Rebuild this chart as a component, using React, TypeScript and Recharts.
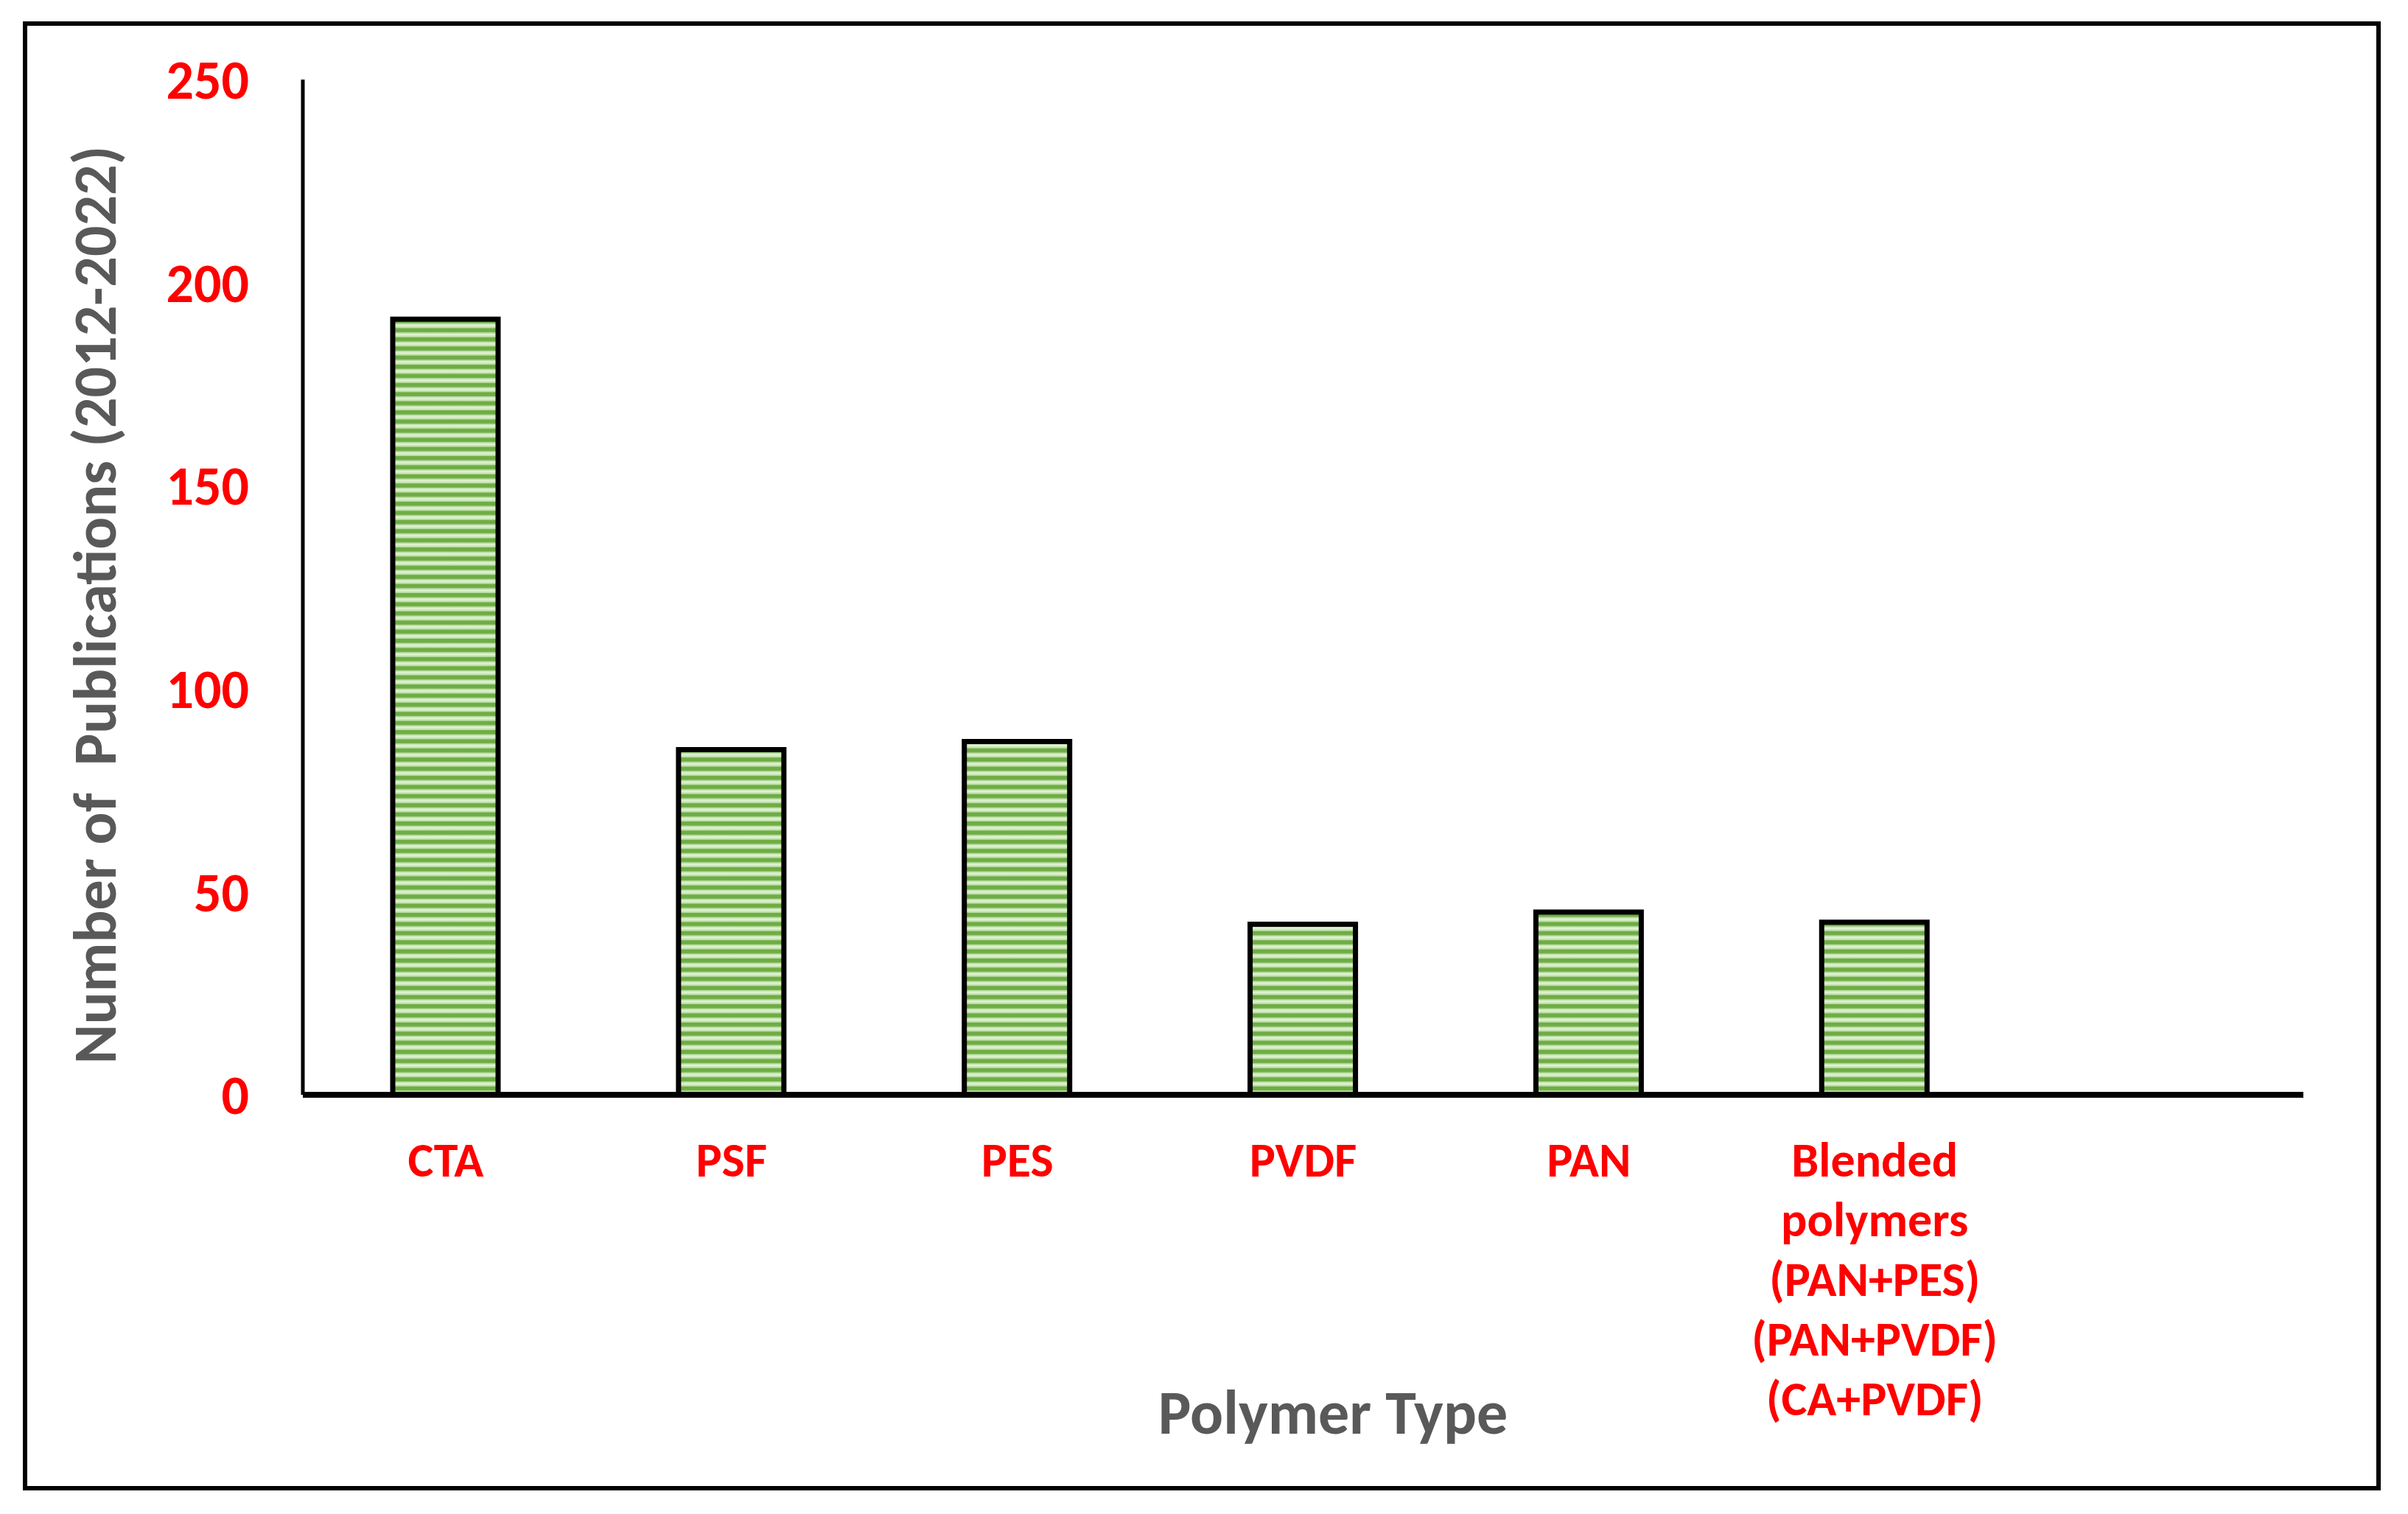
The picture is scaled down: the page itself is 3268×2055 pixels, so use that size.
import React from 'react';
import { BarChart, Bar, XAxis, YAxis } from 'recharts';

// polymer categories (last slot is an empty band on the axis)
const categories = ['CTA', 'PSF', 'PES', 'PVDF', 'PAN', 'Blended polymers', ''];
const tickLines = [
  ['CTA'],
  ['PSF'],
  ['PES'],
  ['PVDF'],
  ['PAN'],
  ['Blended', 'polymers', '(PAN+PES)', '(PAN+PVDF)', '(CA+PVDF)'],
  [],
];
const publications = [191, 85, 87, 42, 45, 42.5, null];
const yTicks = [0, 50, 100, 150, 200, 250];

const data = categories.map((name, i) => ({ name, value: publications[i] }));

const FONT = "Carlito, Lato, 'Noto Sans', sans-serif";
const RED = '#FF0000';
const GRAY = '#595959';

const XTick = (props: any) => {
  const { x, y, payload } = props;
  const lines = tickLines[categories.indexOf(payload.value)] || [];
  return (
    <text x={x} y={y} textAnchor="middle" fill={RED} fontSize={66} fontWeight="bold" fontFamily={FONT}>
      {lines.map((l, i) => (
        <tspan key={i} x={x} dy={i === 0 ? 111 : 81}>
          {l}
        </tspan>
      ))}
    </text>
  );
};

const App: React.FC = () => {
  return (
    <div style={{ position: 'absolute', left: 0, top: 0, width: 3268, height: 2055, background: '#fff' }}>
      {/* outer frame */}
      <div
        style={{
          position: 'absolute',
          left: 31,
          top: 29,
          width: 3188,
          height: 1982,
          border: '6px solid #000',
        }}
      />
      <div style={{ position: 'absolute', left: 0, top: 0 }}>
        <BarChart
          width={3268}
          height={2055}
          data={data}
          margin={{ top: 108, right: 142, bottom: 0, left: 0 }}
          barCategoryGap="31%"
        >
          <defs>
            <pattern id="stripes" patternUnits="userSpaceOnUse" width="20" height="12.4">
              <rect x="0" y="0" width="20" height="12.4" fill="#6fac45" />
              <rect x="0" y="4.5" width="20" height="7" fill="url(#stripeGrad)" />
            </pattern>
            <linearGradient id="stripeGrad" x1="0" y1="0" x2="0" y2="1">
              <stop offset="0%" stopColor="#a3d184" />
              <stop offset="45%" stopColor="#e8f5df" />
              <stop offset="100%" stopColor="#acd78f" />
            </linearGradient>
          </defs>
          <XAxis
            dataKey="name"
            interval={0}
            height={569}
            tickLine={false}
            tickSize={0}
            tickMargin={0}
            axisLine={{ stroke: '#000', strokeWidth: 8 }}
            tick={<XTick />}
            label={{
              content: () => (
                <text x={1809} y={1917} textAnchor="middle" dominantBaseline="central" fill={GRAY} fontSize={84} fontWeight="bold" fontFamily={FONT}>
                  Polymer Type
                </text>
              ),
            }}
          />
          <YAxis
            width={411}
            domain={[0, 250]}
            ticks={yTicks}
            tickLine={false}
            tickSize={0}
            tickMargin={73}
            axisLine={{ stroke: '#000', strokeWidth: 5 }}
            tick={{ fill: RED, fontSize: 74, fontWeight: 'bold', fontFamily: FONT }}
            label={{
              content: () => (
                <text
                  x={129}
                  y={821}
                  transform="rotate(-90 129 821)"
                  textAnchor="middle"
                  dominantBaseline="central"
                  fill={GRAY}
                  fontSize={82}
                  fontWeight="bold"
                  fontFamily={FONT}
                  style={{ whiteSpace: 'pre' }}
                >
                  Number of  Publications (2012-2022)
                </text>
              ),
            }}
          />
          <Bar dataKey="value" barSize={143} fill="url(#stripes)" stroke="#000" strokeWidth={7} isAnimationActive={false} />
        </BarChart>
      </div>
    </div>
  );
};

export default App;
